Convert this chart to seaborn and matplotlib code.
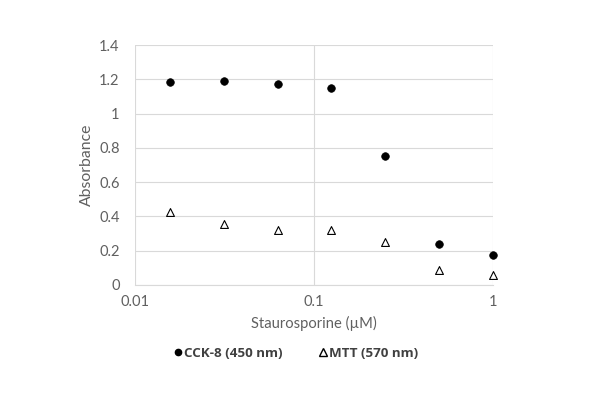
import matplotlib
matplotlib.use("Agg")
import matplotlib.pyplot as plt
import matplotlib.ticker as mticker
import numpy as np
import pandas as pd
import seaborn as sns

# ---------- data ----------
conc = [0.015625, 0.03125, 0.0625, 0.125, 0.25, 0.5, 1.0]
cck8 = [1.185, 1.19, 1.175, 1.15, 0.755, 0.24, 0.175]
mtt = [0.425, 0.355, 0.32, 0.32, 0.25, 0.087, 0.057]

series_names = ["CCK-8 (450 nm)", "MTT (570 nm)"]
x_ticks = [0.01, 0.1, 1]
y_ticks = [0, 0.2, 0.4, 0.6, 0.8, 1.0, 1.2, 1.4]

df = pd.DataFrame({
    "conc": conc * 2,
    "absorbance": cck8 + mtt,
    "assay": [series_names[0]] * len(conc) + [series_names[1]] * len(conc),
})

# ---------- style ----------
sns.set_style("white")
plt.rcParams["font.family"] = ["Lato", "DejaVu Sans"]
TXT = "#606060"
GRID = "#d9d9d9"

fig = plt.figure(figsize=(6.0, 4.04), dpi=100)
ax = fig.add_axes([0.225, 0.2946, 0.597, 0.594])

sns.scatterplot(data=df[df.assay == series_names[0]], x="conc", y="absorbance",
                marker="o", s=30, color="black", edgecolor="black",
                linewidth=0.5, ax=ax, legend=False, zorder=3, clip_on=False)
sns.scatterplot(data=df[df.assay == series_names[1]], x="conc", y="absorbance",
                marker="^", s=32, facecolor="white", edgecolor="black",
                linewidth=0.8, ax=ax, legend=False, zorder=3, clip_on=False)

ax.set_xscale("log")
ax.set_xlim(0.01, 1)
ax.set_ylim(0, 1.4)
ax.set_xticks(x_ticks)
ax.set_yticks(y_ticks)
ax.xaxis.set_major_formatter(mticker.FuncFormatter(lambda v, p: f"{v:g}"))
ax.yaxis.set_major_formatter(mticker.FuncFormatter(lambda v, p: f"{v:g}"))
ax.xaxis.set_minor_locator(mticker.NullLocator())

ax.grid(True, color=GRID, linewidth=0.8)
ax.set_axisbelow(True)
for side in ["top", "right", "left"]:
    ax.spines[side].set_visible(False)
ax.spines["bottom"].set_color(GRID)
ax.tick_params(axis="y", length=0, labelsize=10.5, colors=TXT, pad=11)
ax.tick_params(axis="x", length=0, labelsize=10.5, colors=TXT, pad=7)

ax.set_xlabel("Staurosporine (µM)", fontsize=10.6, color=TXT, labelpad=5)
ax.set_ylabel("Absorbance", fontsize=11.3, color=TXT, labelpad=4)

h1 = plt.Line2D([], [], marker="o", linestyle="none", color="black",
                markersize=4.5)
h2 = plt.Line2D([], [], marker="^", linestyle="none", markerfacecolor="white",
                markeredgecolor="black", markersize=5.5)
fig.legend([h1, h2], series_names, loc="center", bbox_to_anchor=(0.49, 0.126),
           ncol=2, frameon=False, handletextpad=-0.2, handlelength=1.3,
           columnspacing=2.4,
           prop={"family": "Open Sans", "size": 9.6, "weight": "bold"},
           labelcolor="#404040")

fig.savefig("out.png", dpi=100, facecolor="white")
